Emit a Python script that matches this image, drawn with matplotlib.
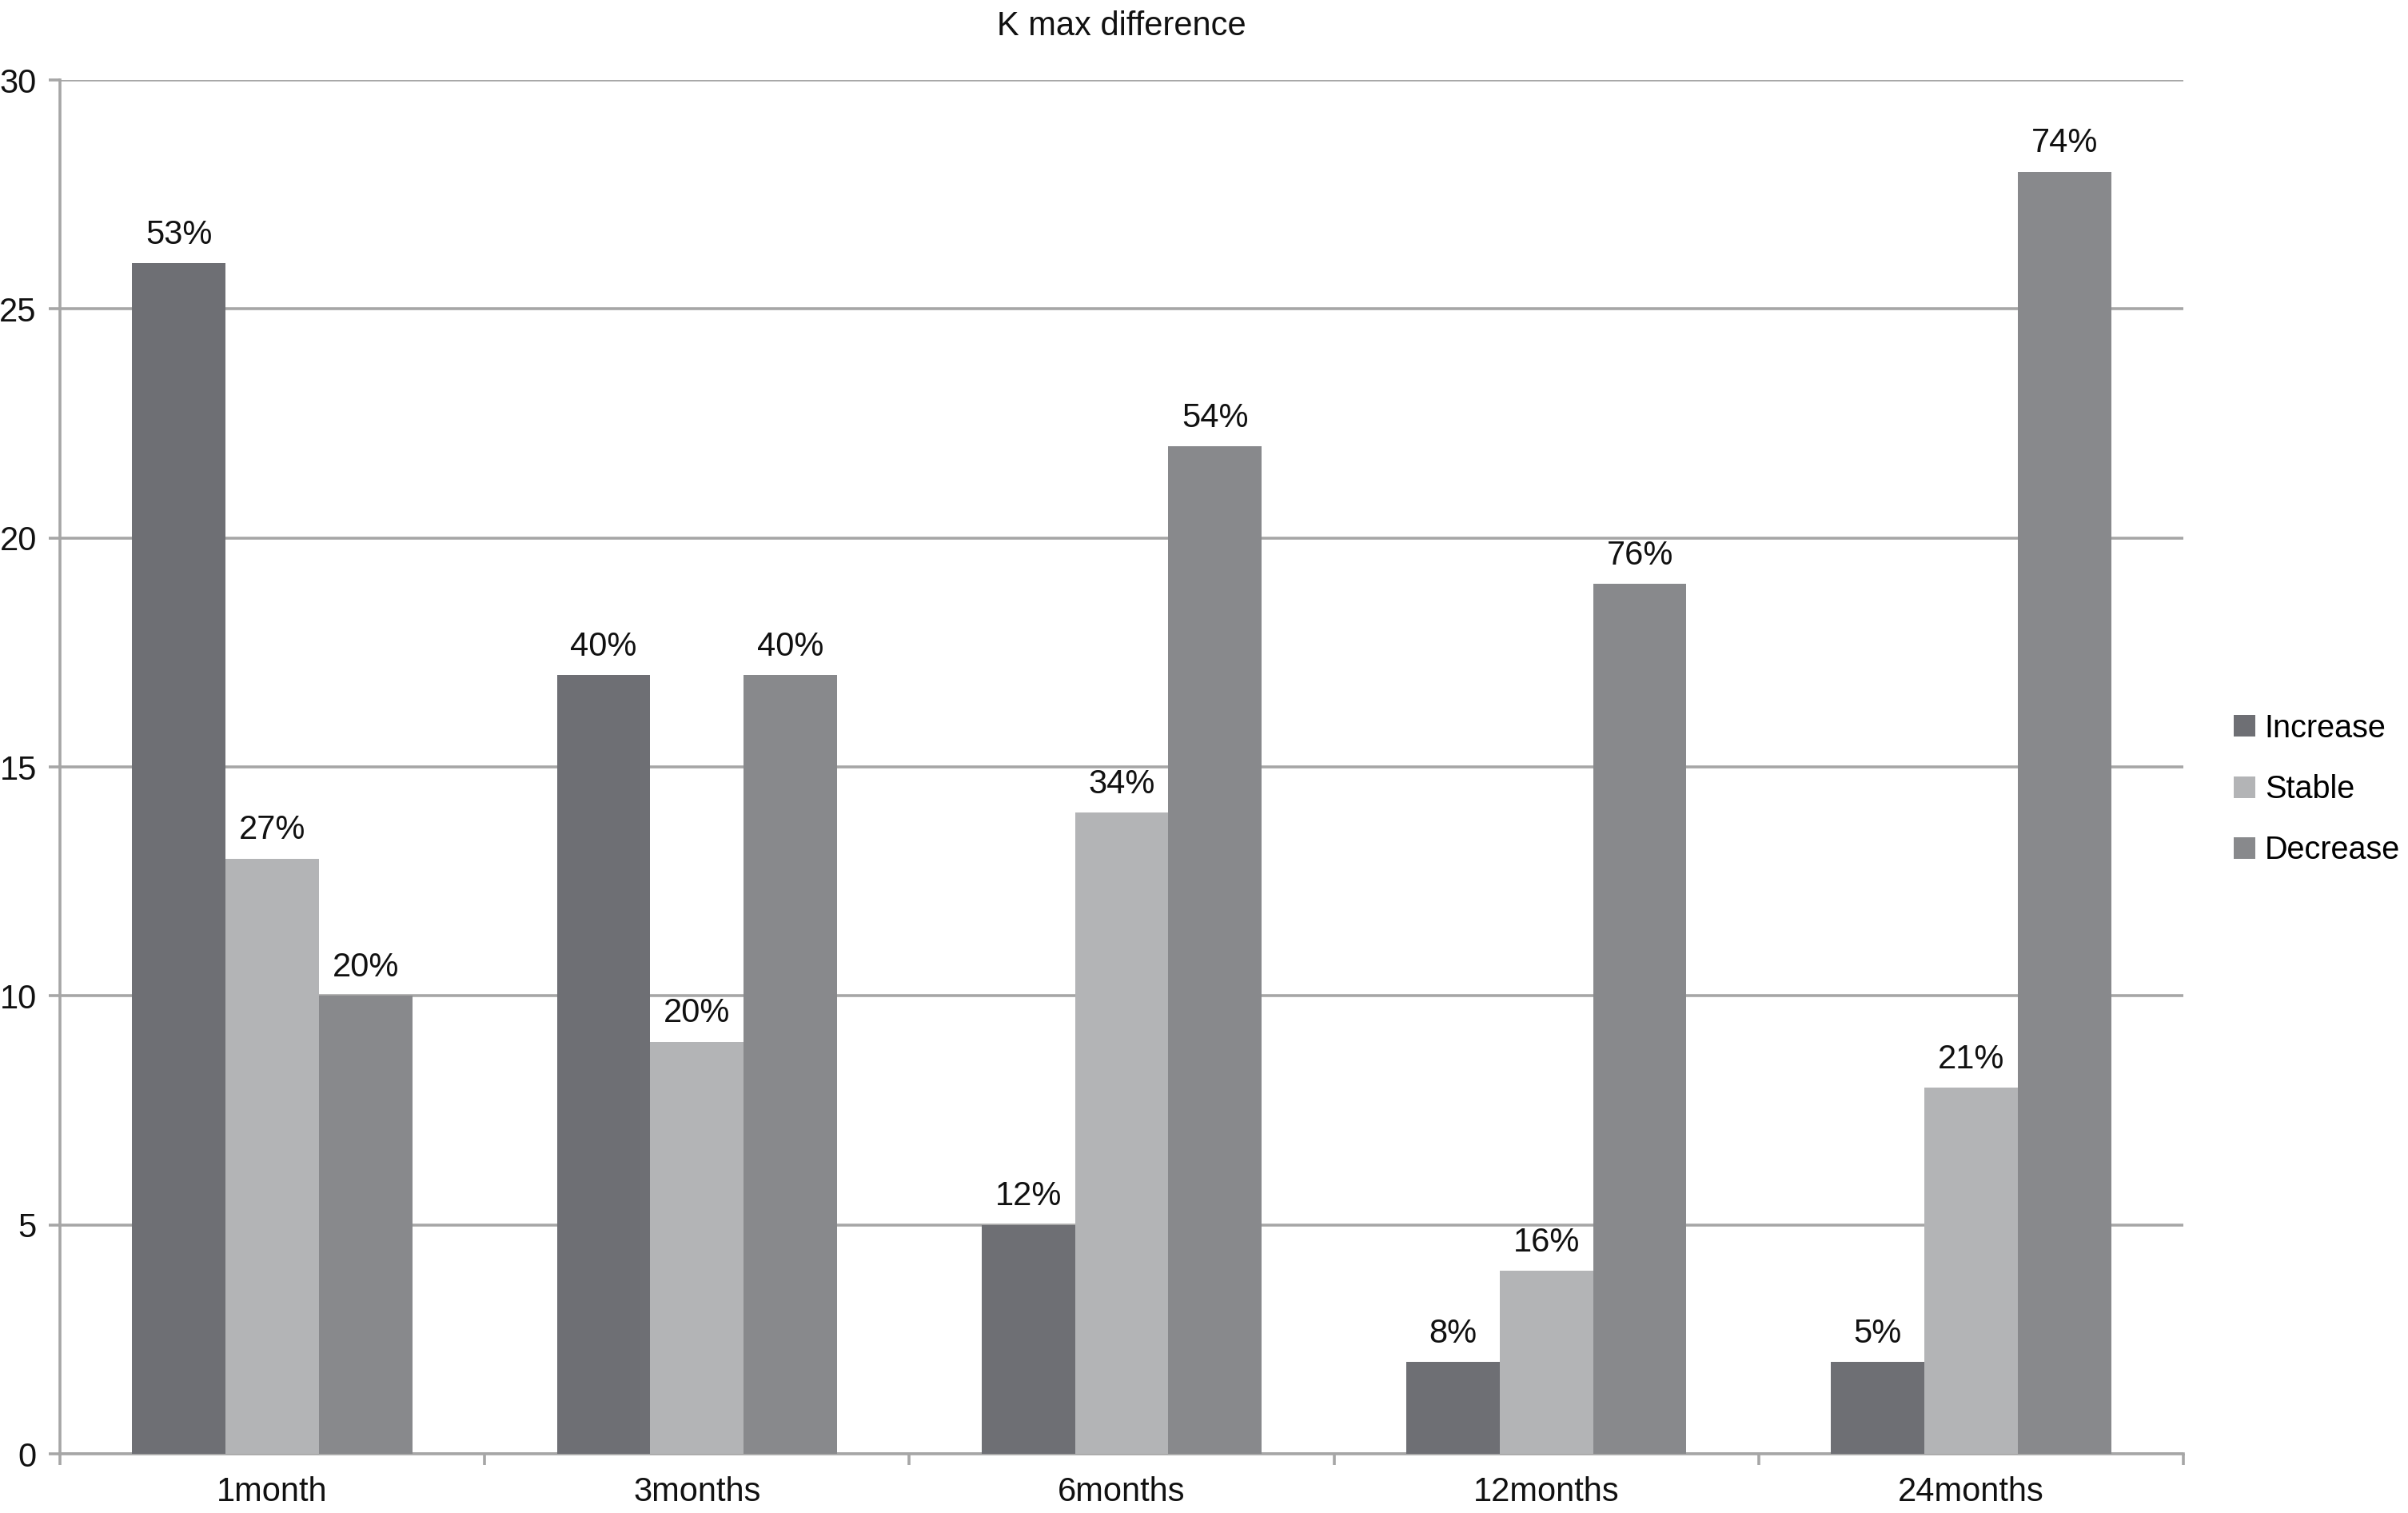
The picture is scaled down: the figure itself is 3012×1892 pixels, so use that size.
import matplotlib.pyplot as plt
import numpy as np

plt.rcParams['font.family'] = ['Liberation Sans', 'DejaVu Sans']

periods = ["1month", "3months", "6months", "12months", "24months"]
series = ["Increase", "Stable", "Decrease"]
increase = [26, 17, 5, 2, 2]
stable = [13, 9, 14, 4, 8]
decrease = [10, 17, 22, 19, 28]
increase_pct = ["53%", "40%", "12%", "8%", "5%"]
stable_pct = ["27%", "20%", "34%", "16%", "21%"]
decrease_pct = ["20%", "40%", "54%", "76%", "74%"]

colors = ["#6e6f74", "#b3b4b6", "#88898c"]
grid_col = "#a6a6a6"
fs = 30

fig = plt.figure(figsize=(30.12, 18.92), dpi=100)
ax = fig.add_axes([75/3012, 1 - 1818/1892, (2731-75)/3012, (1818-100)/1892])

x = np.arange(len(periods))
w = 0.22
vals = [increase, stable, decrease]
pcts = [increase_pct, stable_pct, decrease_pct]
for i in range(3):
    pos = x + (i - 1) * w
    bars = ax.bar(pos, vals[i], width=w, color=colors[i], label=series[i], zorder=3)
    for b, t in zip(bars, pcts[i]):
        ax.annotate(t, (b.get_x() + b.get_width()/2, b.get_height()),
                    xytext=(0, 11), textcoords="offset points",
                    ha="center", va="bottom", fontsize=fs, color="#111111")

ax.set_xlim(-0.5, len(periods) - 0.5)
ax.set_ylim(0, 30)
ax.set_yticks(np.arange(0, 31, 5))
ax.set_xticks(x)
ax.set_xticklabels(periods)
ax.set_xticks(np.arange(-0.5, len(periods), 1), minor=True)

ax.yaxis.grid(True, color=grid_col, linewidth=2.6, zorder=0)
ax.set_axisbelow(True)
for s in ["top", "right"]:
    ax.spines[s].set_visible(False)
for s in ["left", "bottom"]:
    ax.spines[s].set_color(grid_col)
    ax.spines[s].set_linewidth(2.6)

ax.tick_params(axis="y", length=10, width=2.6, color=grid_col, labelsize=fs, pad=11, labelcolor="#111111")
ax.tick_params(axis="x", which="major", length=0, labelsize=fs, pad=20, labelcolor="#111111")
ax.tick_params(axis="x", which="minor", length=10, width=2.6, color=grid_col)

ax.set_title("K max difference", fontsize=fs, pad=40, color="#111111")

ax.legend(loc="center left", bbox_to_anchor=(2794/3012, 1 - 987/1892), bbox_transform=fig.transFigure,
          frameon=False, fontsize=28.5, handlelength=0.68, handleheight=0.68,
          handletextpad=0.3, labelspacing=0.97, borderpad=0, borderaxespad=0)

plt.savefig("out.png", dpi=100)
